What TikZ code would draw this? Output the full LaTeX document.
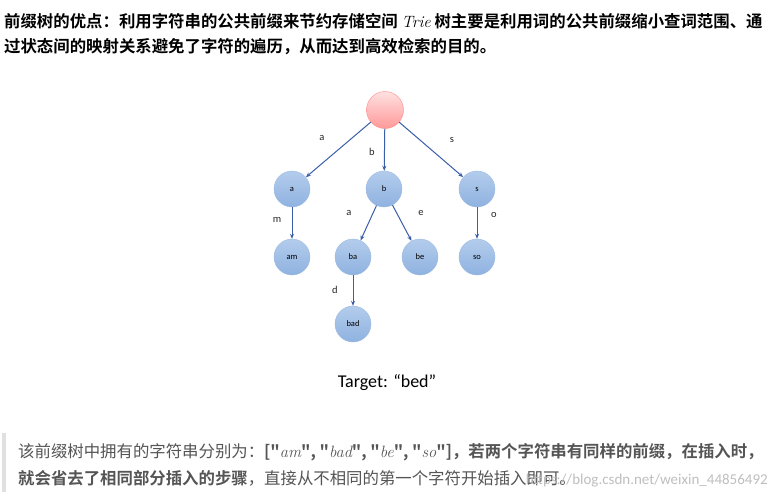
\documentclass[tikz,border=0pt]{standalone}
\usepackage{fontspec}
\setmainfont{Carlito}
\newfontfamily\cjk{Noto Sans CJK SC}
\newfontfamily\cjkb{Noto Sans CJK SC Bold}
\newfontfamily\lmi{Latin Modern Roman}
\usetikzlibrary{arrows.meta}
\definecolor{arr}{HTML}{3A5FA8}
\definecolor{gtxt}{HTML}{555555}
\definecolor{ntop}{HTML}{B3CCEC}
\definecolor{nbot}{HTML}{8FB2E0}
\definecolor{nbrd}{HTML}{9DBBE3}
\newcommand{\mi}[1]{{\lmi\itshape #1}}
\tikzset{
  nd/.style={circle,minimum size=36pt,inner sep=0pt,top color=ntop,bottom color=nbot,draw=nbrd,font=\fontsize{8.5}{8}\selectfont},
  rt/.style={circle,minimum size=37pt,inner sep=0pt,top color=red!12,bottom color=red!40,draw=red!45},
  ar/.style={draw=arr,line width=1pt,-{Stealth[length=5pt,width=4pt]}},
  el/.style={font=\fontsize{10.5}{10}\selectfont,text=black!85},
}
\begin{document}
\begin{tikzpicture}[x=1pt,y=-1pt]
\useasboundingbox[fill=white] (0,0) rectangle (775,498);
% top text
\node[anchor=base west,inner sep=0pt,font=\fontsize{16.4}{16}\cjkb] (t1) at (4,27) {前缀树的优点：利用字符串的公共前缀来节约存储空间 \mi{Trie} 树主要是利用词的公共前缀缩小查词范围、通};
\node[anchor=base west,inner sep=0pt,font=\fontsize{16.4}{16}\cjkb] (t2) at (4,52) {过状态间的映射关系避免了字符的遍历，从而达到高效检索的目的。};
% tree
\node[rt] (r) at (385,110) {};
\node[nd] (a) at (292,189) {a};
\node[nd] (b) at (384,189) {b};
\node[nd] (s) at (477,189) {s};
\node[nd] (am) at (292,257) {am};
\node[nd] (ba) at (353,257) {ba};
\node[nd] (be) at (420,257) {be};
\node[nd] (so) at (477,257) {so};
\node[nd] (bad) at (353,324) {bad};
\draw[ar] (r) -- (a);
\draw[ar] (r) -- (b);
\draw[ar] (r) -- (s);
\draw[ar] (a) -- (am);
\draw[ar] (b) -- (ba);
\draw[ar] (b) -- (be);
\draw[ar] (s) -- (so);
\draw[ar] (ba) -- (bad);
\node[el] (la) at (322,138) {a};
\node[el] (lb) at (372,152) {b};
\node[el] (ls) at (452,140) {s};
\node[el] (lm) at (277,220) {m};
\node[el] (la2) at (349,213) {a};
\node[el] (le) at (421,213) {e};
\node[el] (lo) at (494,215) {o};
\node[el] (ld) at (335,290) {d};
\node[font=\fontsize{18}{18}\selectfont] (tg) at (387,383) {Target: “bed”};
% bottom quote
\fill[black!12] (2,433) rectangle (6,492);
\node[anchor=base west,inner sep=0pt,font=\fontsize{16.4}{16}\cjk,text=gtxt] (b1) at (18,457) {该前缀树中拥有的字符串分别为：{\cjkb[\textquotedbl\mi{am}\textquotedbl, \textquotedbl\mi{bad}\textquotedbl, \textquotedbl\mi{be}\textquotedbl, \textquotedbl\mi{so}\textquotedbl]，若两个字符串有同样的前缀，在插入时，}};
\node[anchor=base west,inner sep=0pt,font=\fontsize{16.4}{16}\cjk,text=gtxt] (b2) at (18,484) {{\cjkb 就会省去了相同部分插入的步骤}，直接从不相同的第一个字符开始插入即可。};
\node[anchor=base east,inner sep=0pt,font=\fontsize{15}{16}\selectfont,text=black!25] (wm) at (768,484) {https://blog.csdn.net/weixin\_44856492};
\end{tikzpicture}
\end{document}
